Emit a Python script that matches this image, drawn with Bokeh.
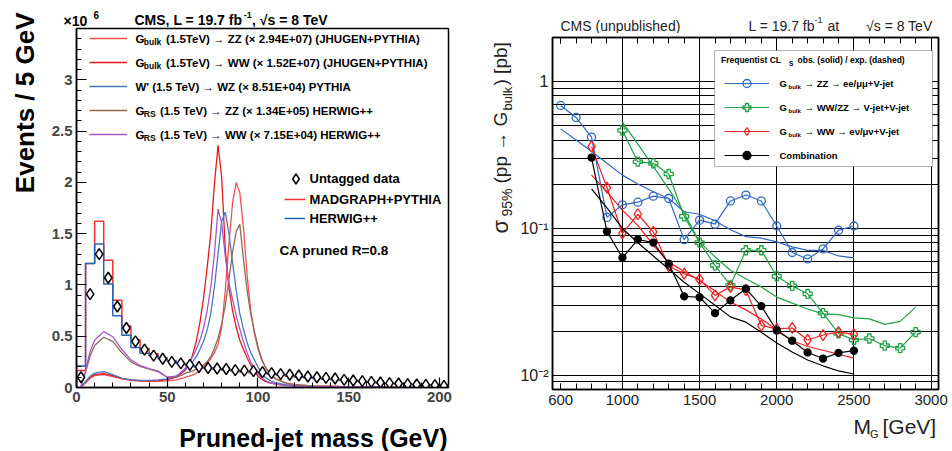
import numpy as np
from bokeh.plotting import figure
from bokeh.layouts import row, column
from bokeh.models import (Label, Legend, LegendItem, FixedTicker, CustomJSTickFormatter,
                          BoxAnnotation, LinearAxis, LogAxis, Range1d)
from bokeh.embed import file_html
from bokeh.resources import INLINE

FONT = "Liberation Sans"

# ---------------- left panel data (units of 10^6 events / 5 GeV) ----------------
BIN_WIDTH = 5.0
data_untagged = [0.10, 0.91, 1.30, 1.07, 0.79, 0.58, 0.45, 0.37, 0.31, 0.28,
                 0.25, 0.235, 0.22, 0.20, 0.19, 0.185, 0.18, 0.17, 0.165, 0.16,
                 0.15, 0.14, 0.13, 0.124, 0.117, 0.107, 0.10, 0.094, 0.088, 0.075,
                 0.068, 0.062, 0.055, 0.049, 0.042, 0.039, 0.033, 0.029, 0.026, 0.023, 0.016]
mc_madgraph = [0.165, 1.21, 1.62, 1.24, 0.85, 0.60, 0.465, 0.38, 0.33, 0.29,
               0.26, 0.235, 0.215, 0.20, 0.19, 0.18, 0.17, 0.16, 0.15, 0.145,
               0.14, 0.13, 0.12, 0.11, 0.10, 0.095, 0.088, 0.08, 0.075, 0.068,
               0.062, 0.056, 0.05, 0.045, 0.04, 0.036, 0.032, 0.028, 0.025, 0.022, 0.02]
mc_herwig = [0.21, 1.21, 1.40, 1.01, 0.70, 0.51, 0.39, 0.335, 0.31, 0.28,
             0.255, 0.235, 0.215, 0.20, 0.19, 0.18, 0.17, 0.165, 0.155, 0.15,
             0.14, 0.135, 0.125, 0.115, 0.105, 0.098, 0.09, 0.083, 0.077, 0.07,
             0.064, 0.058, 0.052, 0.047, 0.042, 0.038, 0.034, 0.03, 0.027, 0.024, 0.021]

sig_mass = [2.5, 5, 7.5, 10, 15, 20, 25, 30, 35, 40, 45, 50, 55, 58,
            60, 62, 64, 66, 68, 70, 72, 74, 76, 78, 80, 82, 84, 86, 88, 90, 92, 94, 96, 98, 100, 102, 104,
            107, 110, 115, 120, 130, 145, 165, 185, 205]
sig_bulk_zz = [0.005, 0.045, 0.09, 0.115, 0.125, 0.105, 0.085, 0.07, 0.062, 0.06, 0.06, 0.065, 0.075, 0.088,
               0.10, 0.11, 0.12, 0.14, 0.17, 0.20, 0.24, 0.28, 0.34, 0.42, 0.58, 0.95, 1.40, 1.80, 2.00, 1.90,
               1.56, 1.10, 0.75, 0.53, 0.38, 0.27, 0.20,
               0.13, 0.085, 0.045, 0.028, 0.016, 0.010, 0.006, 0.004, 0.003]
sig_bulk_ww = [0.005, 0.05, 0.10, 0.125, 0.135, 0.115, 0.09, 0.075, 0.068, 0.065, 0.068, 0.078, 0.10, 0.14,
               0.17, 0.22, 0.32, 0.45, 0.63, 0.87, 1.17, 1.50, 1.98, 2.36, 2.05, 1.35, 0.97, 0.75, 0.59, 0.46,
               0.37, 0.29, 0.22, 0.16, 0.11, 0.08, 0.06,
               0.042, 0.032, 0.022, 0.017, 0.012, 0.008, 0.005, 0.003, 0.002]
sig_wprime_wz = [0.005, 0.06, 0.11, 0.14, 0.155, 0.125, 0.09, 0.075, 0.07, 0.07, 0.075, 0.085, 0.11, 0.15,
                 0.18, 0.21, 0.25, 0.30, 0.37, 0.45, 0.56, 0.72, 0.98, 1.30, 1.62, 1.71, 1.50, 1.22, 0.95, 0.72,
                 0.57, 0.44, 0.34, 0.27, 0.20, 0.14, 0.10,
                 0.065, 0.045, 0.028, 0.018, 0.011, 0.007, 0.004, 0.003, 0.002]
sig_rs_zz = [0.01, 0.15, 0.31, 0.41, 0.49, 0.45, 0.34, 0.25, 0.205, 0.18, 0.155, 0.10, 0.10, 0.12,
             0.14, 0.15, 0.16, 0.18, 0.20, 0.22, 0.25, 0.30, 0.38, 0.48, 0.62, 0.80, 1.05, 1.32, 1.52, 1.59,
             1.25, 0.95, 0.72, 0.55, 0.40, 0.28, 0.20,
             0.12, 0.08, 0.045, 0.028, 0.016, 0.010, 0.006, 0.004, 0.003]
sig_rs_ww = [0.01, 0.17, 0.35, 0.46, 0.545, 0.495, 0.37, 0.27, 0.215, 0.185, 0.16, 0.10, 0.11, 0.15,
             0.19, 0.24, 0.30, 0.37, 0.46, 0.58, 0.75, 0.98, 1.30, 1.74, 1.60, 1.28, 1.02, 0.86, 0.70, 0.57,
             0.45, 0.34, 0.25, 0.18, 0.13, 0.095, 0.07,
             0.045, 0.032, 0.02, 0.014, 0.01, 0.007, 0.005, 0.003, 0.002]

# ---------------- right panel data (pb) ----------------
m_zz_ll = [600, 700, 800, 900, 1000, 1100, 1200, 1300, 1400, 1500, 1600, 1700, 1800, 1900,
           2000, 2100, 2200, 2300, 2400, 2500]
obs_zz_ll = [0.689, 0.570, 0.419, 0.119, 0.145, 0.151, 0.166, 0.160, 0.084, 0.114, 0.107, 0.154,
             0.169, 0.154, 0.104, 0.0686, 0.0620, 0.0726, 0.0973, 0.104]
exp_zz_ll = [0.477, 0.40, 0.334, 0.278, 0.231, 0.201, 0.178, 0.160, 0.130, 0.125, 0.113, 0.098,
             0.088, 0.086, 0.081, 0.075, 0.071, 0.071, 0.065, 0.063]
m_vv_jj = [1000, 1100, 1200, 1300, 1400, 1500, 1600, 1700, 1800, 1900, 2000, 2100, 2200, 2300,
           2400, 2500, 2600, 2700, 2800, 2900]
obs_vv_jj = [0.465, 0.285, 0.278, 0.235, 0.121, 0.0802, 0.0561, 0.0410, 0.0711, 0.0711, 0.0472,
             0.0406, 0.0359, 0.0265, 0.0193, 0.0174, 0.0178, 0.0159, 0.0153, 0.0197]
exp_vv_jj = [0.530, 0.375, 0.265, 0.186, 0.127, 0.081, 0.064, 0.052, 0.0454, 0.0399, 0.0341,
             0.031, 0.0283, 0.0262, 0.0259, 0.0246, 0.0242, 0.0222, 0.0233, 0.0291]
m_ww_lv = [800, 900, 1000, 1100, 1200, 1300, 1400, 1500, 1600, 1700, 1800, 1900, 2000, 2100,
           2200, 2300, 2400, 2500]
obs_ww_lv = [0.361, 0.190, 0.0925, 0.125, 0.0948, 0.0555, 0.0492, 0.0450, 0.035, 0.040, 0.038,
             0.0218, 0.0207, 0.021, 0.0174, 0.0188, 0.0197, 0.0190]
exp_ww_lv = [0.231, 0.178, 0.133, 0.105, 0.0769, 0.059, 0.051, 0.0444, 0.0375, 0.0315, 0.0279,
             0.0242, 0.0204, 0.0172, 0.0157, 0.0148, 0.0139, 0.0131]
m_comb = [800, 900, 1000, 1100, 1200, 1300, 1400, 1500, 1600, 1700, 1800, 1900, 2000, 2100,
          2200, 2300, 2400, 2500]
obs_comb = [0.304, 0.0953, 0.0633, 0.0841, 0.0802, 0.0577, 0.0345, 0.034, 0.0265, 0.0324, 0.0389,
            0.0296, 0.0202, 0.0172, 0.0143, 0.0130, 0.0142, 0.0147]
exp_comb = [0.186, 0.138, 0.100, 0.080, 0.065, 0.053, 0.043, 0.036, 0.030, 0.025, 0.023, 0.0196,
            0.0166, 0.0144, 0.0127, 0.0116, 0.0107, 0.0102]

# ---------------- colours ----------------
C_BULK_ZZ = "#f25050"
C_BULK_WW = "#e41a1c"
C_WPRIME = "#4a78c0"
C_RS_ZZ = "#8c6a58"
C_RS_WW = "#a855c8"
C_MG = "#f03030"
C_HW = "#2563b8"
C_BLUE = "#2f68c0"
C_GREEN = "#22a046"
C_RED = "#f02020"
C_TXT2 = "#222222"


def txt(fig, org, X, Y, s, size, bold=False, align="left", baseline="middle", angle=0.0, color="black"):
    """org = page position of the figure frame's bottom-left corner; X, Y page coords."""
    fx, fy = org
    fig.add_layout(Label(x=X - fx, y=fy - Y, x_units="screen", y_units="screen", text=s,
                         text_font=FONT, text_font_size=f"{size}px",
                         text_font_style="bold" if bold else "normal",
                         text_align=align, text_baseline=baseline, angle=angle,
                         text_color=color))


def strip(w, h):
    f = figure(width=w, height=h, x_range=Range1d(0, w), y_range=Range1d(0, h), title=None,
               output_backend="svg", toolbar_location=None, min_border=0,
               x_axis_location=None, y_axis_location=None)
    f.outline_line_color = None
    f.xgrid.visible = False
    f.ygrid.visible = False
    return f


# =============================== LEFT PANEL ===============================
ylab1 = strip(48, 451)                 # page x 0..48
head1 = strip(428, 27)                 # page x 48..476, y 0..27
p1 = figure(width=428, height=384, x_range=Range1d(0, 205), y_range=Range1d(0, 3.5), title=None,
            output_backend="svg", toolbar_location=None,
            min_border_left=28, min_border_right=28, min_border_top=1, min_border_bottom=24)
xlab1 = strip(428, 40)                 # page y 411..451
p1.outline_line_color = "black"
p1.outline_line_width = 1.5
p1.xgrid.visible = False
p1.ygrid.visible = False

bx1 = p1.xaxis[0]
by1 = p1.yaxis[0]
for ax in (bx1, by1):
    ax.major_tick_in = 10
    ax.major_tick_out = 0
    ax.minor_tick_in = 5
    ax.minor_tick_out = 0
    ax.axis_line_width = 1.5
    ax.major_tick_line_width = 1.2
    ax.major_label_text_font = FONT
    ax.major_label_text_font_style = "bold"
    ax.major_label_text_font_size = "15px"
    ax.major_label_standoff = 4
bx1.ticker = FixedTicker(ticks=[0, 50, 100, 150, 200], minor_ticks=list(range(0, 206, 10)))
by1.ticker = FixedTicker(ticks=[0, 0.5, 1, 1.5, 2, 2.5, 3],
                         minor_ticks=[round(0.1 * i, 1) for i in range(0, 35)])
by1.formatter = CustomJSTickFormatter(code="return String(Math.round(tick*10)/10);")

centers = np.arange(len(data_untagged)) * BIN_WIDTH + BIN_WIDTH / 2
left_edges = np.arange(len(data_untagged)) * BIN_WIDTH
xs_step = np.concatenate([[0.0], left_edges, [len(data_untagged) * BIN_WIDTH]])


def step_y(vals):
    return np.concatenate([[0.0], vals, [vals[-1]]])


r_mg = p1.step(xs_step, step_y(mc_madgraph), mode="after", line_color=C_MG, line_width=1.5)
r_hw = p1.step(xs_step, step_y(mc_herwig), mode="after", line_color=C_HW, line_width=1.5)

r_s1 = p1.line(sig_mass, sig_bulk_zz, line_color=C_BULK_ZZ, line_width=1.3)
r_s2 = p1.line(sig_mass, sig_bulk_ww, line_color=C_BULK_WW, line_width=1.3)
r_s3 = p1.line(sig_mass, sig_wprime_wz, line_color=C_WPRIME, line_width=1.3)
r_s4 = p1.line(sig_mass, sig_rs_zz, line_color=C_RS_ZZ, line_width=1.3)
r_s5 = p1.line(sig_mass, sig_rs_ww, line_color=C_RS_WW, line_width=1.3)

r_data = p1.scatter(centers, data_untagged, marker="diamond", size=11, line_color="black",
                    fill_color="white", line_width=1.5)

org1 = (76, 387)
leg_common = dict(padding=0, margin=0, border_line_alpha=0, background_fill_alpha=0,
                  label_text_font_size="1px", label_standoff=0)
p1.add_layout(Legend(items=[LegendItem(label=" ", renderers=[r]) for r in (r_s1, r_s2, r_s3, r_s4, r_s5)],
                     location=(13, 246.7), glyph_width=38, glyph_height=12, label_height=12, spacing=12,
                     **leg_common))
p1.add_layout(Legend(items=[LegendItem(label=" ", renderers=[r_data])],
                     location=(206.5, 196.2), glyph_width=25, glyph_height=25, label_height=25, spacing=0,
                     **leg_common))
p1.add_layout(Legend(items=[LegendItem(label=" ", renderers=[r_mg]), LegendItem(label=" ", renderers=[r_hw])],
                     location=(208, 162.7), glyph_width=21, glyph_height=12, label_height=12, spacing=7,
                     **leg_common))

# signal legend texts
rows1 = [38.3, 62.3, 86.3, 110.3, 134.3]
SUB = 8.5
txt(p1, org1, 135, rows1[0], "G", 11.5, bold=True)
txt(p1, org1, 143.3, rows1[0] + 3.5, "bulk", SUB, bold=True)
txt(p1, org1, 165.5, rows1[0], "(1.5TeV) \u2192 ZZ (\u00d7 2.94E+07) (JHUGEN+PYTHIA)", 11.5, bold=True)
txt(p1, org1, 135, rows1[1], "G", 11.5, bold=True)
txt(p1, org1, 143.3, rows1[1] + 3.5, "bulk", SUB, bold=True)
txt(p1, org1, 165.5, rows1[1], "(1.5TeV) \u2192 WW (\u00d7 1.52E+07) (JHUGEN+PYTHIA)", 11.5, bold=True)
txt(p1, org1, 135, rows1[2], "W' (1.5 TeV) \u2192 WZ (\u00d7 8.51E+04) PYTHIA", 11.5, bold=True)
txt(p1, org1, 135, rows1[3], "G", 11.5, bold=True)
txt(p1, org1, 143.3, rows1[3] + 3.5, "RS", SUB, bold=True)
txt(p1, org1, 159.5, rows1[3], "(1.5 TeV) \u2192 ZZ (\u00d7 1.34E+05) HERWIG++", 11.5, bold=True)
txt(p1, org1, 135, rows1[4], "G", 11.5, bold=True)
txt(p1, org1, 143.3, rows1[4] + 3.5, "RS", SUB, bold=True)
txt(p1, org1, 159.5, rows1[4], "(1.5 TeV) \u2192 WW (\u00d7 7.15E+04) HERWIG++", 11.5, bold=True)

txt(p1, org1, 309, 178.3, "Untagged data", 13, bold=True)
txt(p1, org1, 309, 199.3, "MADGRAPH+PYTHIA", 13, bold=True)
txt(p1, org1, 309, 218.3, "HERWIG++", 13, bold=True)
txt(p1, org1, 279, 250, "CA pruned R=0.8", 13.5, bold=True)

# header strip (frame bottom-left at page (48, 27))
oh1 = (48, 27)
txt(head1, oh1, 63, 20, "\u00d710", 14, bold=True)
txt(head1, oh1, 93, 14, "6", 10, bold=True)
txt(head1, oh1, 134, 19.5, "CMS, L = 19.7 fb", 14, bold=True)
txt(head1, oh1, 243.3, 14, "-1", 9, bold=True)
txt(head1, oh1, 251.5, 19.5, ", \u221as = 8 TeV", 14, bold=True)

# axis titles
txt(ylab1, (0, 451), 24, 12, "Events / 5 GeV", 26, bold=True, align="right", angle=np.pi / 2)
txt(xlab1, (48, 451), 447, 437, "Pruned-jet mass (GeV)", 25, bold=True, align="right")

left_panel = row(ylab1, column(row(head1), p1, row(xlab1)))

# =============================== RIGHT PANEL ===============================
ylab2 = strip(38, 451)                 # page x 476..514
head2 = strip(438, 33)                 # page x 514..952, y 0..33
p2 = figure(width=438, height=382, x_range=Range1d(547, 3048), y_range=Range1d(0.008, 2.0),
            y_axis_type="log", title=None, output_backend="svg", toolbar_location=None,
            min_border_left=38, min_border_right=14, min_border_top=4, min_border_bottom=26)
xlab2 = strip(438, 36)                 # page y 415..451
p2.outline_line_color = "black"
p2.outline_line_width = 1.5

x_major = [600, 1000, 1500, 2000, 2500, 3000]
x_minor = list(range(600, 3001, 100))
y_major = [0.01, 0.1, 1.0]
y_minor = [k * 10.0 ** e for e in (-3, -2, -1, 0) for k in range(1, 10)]

bx2 = p2.xaxis[0]
by2 = p2.yaxis[0]
bx2.ticker = FixedTicker(ticks=x_major, minor_ticks=x_minor)
by2.ticker = FixedTicker(ticks=y_major, minor_ticks=y_minor)
by2.formatter = CustomJSTickFormatter(code="""
if (Math.abs(tick - 1) < 1e-9) { return "1"; }
const e = Math.round(Math.log10(tick));
const m = {"-": "\u207b", "0": "\u2070", "1": "\u00b9", "2": "\u00b2", "3": "\u00b3"};
return "10" + String(e).split("").map(c => m[c]).join("");
""")

top_ax = LinearAxis(ticker=FixedTicker(ticks=x_major, minor_ticks=x_minor))
right_ax = LogAxis(ticker=FixedTicker(ticks=y_major, minor_ticks=y_minor))
p2.add_layout(top_ax, "above")
p2.add_layout(right_ax, "right")
for ax in (top_ax, right_ax):
    ax.major_label_text_font_size = "1px"
    ax.major_label_text_alpha = 0.0
    ax.major_label_standoff = 0

for ax in (bx2, top_ax):
    ax.major_tick_in = 6
    ax.major_tick_out = 0
    ax.minor_tick_in = 6
    ax.minor_tick_out = 0
for ax in (by2, right_ax):
    ax.major_tick_in = 14
    ax.major_tick_out = 0
    ax.minor_tick_in = 7
    ax.minor_tick_out = 0
for ax in (bx2, by2, top_ax, right_ax):
    ax.axis_line_width = 1.5
    ax.major_label_text_font = FONT
    ax.major_label_text_color = C_TXT2
bx2.major_label_text_font_size = "15px"
by2.major_label_text_font_size = "16px"
bx2.major_label_standoff = 5
by2.major_label_standoff = 4

p2.xgrid[0].ticker = FixedTicker(ticks=[1000, 1500, 2000, 2500, 3000])
p2.xgrid.grid_line_color = "black"
p2.xgrid.grid_line_width = 1
p2.ygrid.grid_line_color = "black"
p2.ygrid.minor_grid_line_color = "black"
p2.ygrid.grid_line_width = 1
p2.ygrid.minor_grid_line_width = 1

series = [
    (m_zz_ll, obs_zz_ll, exp_zz_ll, C_BLUE, "circle", 8),
    (m_vv_jj, obs_vv_jj, exp_vv_jj, C_GREEN, "plus", 9),
    (m_ww_lv, obs_ww_lv, exp_ww_lv, C_RED, "diamond", 11),
    (m_comb, obs_comb, exp_comb, "black", "circle", 7),
]
leg_items = []
for m, obs, exp, col, mk, sz in series:
    p2.line(m, exp, line_color=col, line_width=1.2)
    rl = p2.line(m, obs, line_color=col, line_width=1.2)
    fill = "black" if col == "black" else None
    rp = p2.scatter(m, obs, marker=mk, size=sz, line_color=col, fill_color=fill, line_width=1.3)
    leg_items.append(LegendItem(label=" ", renderers=[rl, rp]))

org2 = (552, 389)
p2.add_layout(BoxAnnotation(left=714 - 552, right=932 - 552, top=389 - 50, bottom=389 - 166,
                            left_units="screen", right_units="screen", top_units="screen",
                            bottom_units="screen", fill_color="white", fill_alpha=1.0,
                            line_color="black", line_width=1))
p2.add_layout(Legend(items=leg_items, location=(172, 223.7), glyph_width=45, glyph_height=20,
                     label_height=20, spacing=4, **leg_common))

txt(p2, org2, 720.5, 59, "Frequentist CL", 8.5, bold=True)
txt(p2, org2, 788.5, 62.5, "S", 6.5, bold=True)
txt(p2, org2, 797, 59, "obs. (solid) / exp. (dashed)", 8.5, bold=True)
rows2 = [83.3, 107.3, 131.3, 155.3]
rests = ["\u2192 ZZ \u2192 ee/\u03bc\u03bc+V-jet", "\u2192 WW/ZZ \u2192 V-jet+V-jet",
         "\u2192 WW \u2192 e\u03bd/\u03bc\u03bd+V-jet"]
for yy, rest in zip(rows2[:3], rests):
    txt(p2, org2, 779, yy, "G", 9.5, bold=True)
    txt(p2, org2, 788, yy + 3, "bulk", 6, bold=True)
    txt(p2, org2, 804, yy, rest, 9.5, bold=True)
txt(p2, org2, 779, rows2[3], "Combination", 9.5, bold=True)

# header strip (frame bottom-left at page (514, 33))
oh2 = (514, 33)
txt(head2, oh2, 560, 25, "CMS (unpublished)", 14, color=C_TXT2)
txt(head2, oh2, 748, 25, "L = 19.7 fb", 14, color=C_TXT2)
txt(head2, oh2, 814, 19, "-1", 9, color=C_TXT2)
txt(head2, oh2, 827, 25, "at", 14, color=C_TXT2)
txt(head2, oh2, 932, 25, "\u221as = 8 TeV", 14, color=C_TXT2, align="right")

# axis titles
oy2 = (476, 451)
txt(ylab2, oy2, 500, 233, "\u03c3", 22, angle=np.pi / 2, color=C_TXT2)
txt(ylab2, oy2, 506.5, 216, "95%", 14, angle=np.pi / 2, color=C_TXT2)
txt(ylab2, oy2, 500, 183, "(pp \u2192 G", 19, angle=np.pi / 2, color=C_TXT2)
txt(ylab2, oy2, 506.5, 110, "bulk", 13, angle=np.pi / 2, color=C_TXT2)
txt(ylab2, oy2, 500, 85, ") [pb]", 19, angle=np.pi / 2, color=C_TXT2)

ox2 = (514, 451)
txt(xlab2, ox2, 853, 426, "M", 21, color=C_TXT2)
txt(xlab2, ox2, 869.5, 433, "G", 11, color=C_TXT2)
txt(xlab2, ox2, 882, 426, "[GeV]", 21, color=C_TXT2)

right_panel = row(ylab2, column(row(head2), p2, row(xlab2)))

layout = row(left_panel, right_panel)
html = file_html(layout, INLINE, title="CMS pruned jet mass and limits")
with open("out.html", "w", encoding="utf-8") as f:
    f.write(html)
